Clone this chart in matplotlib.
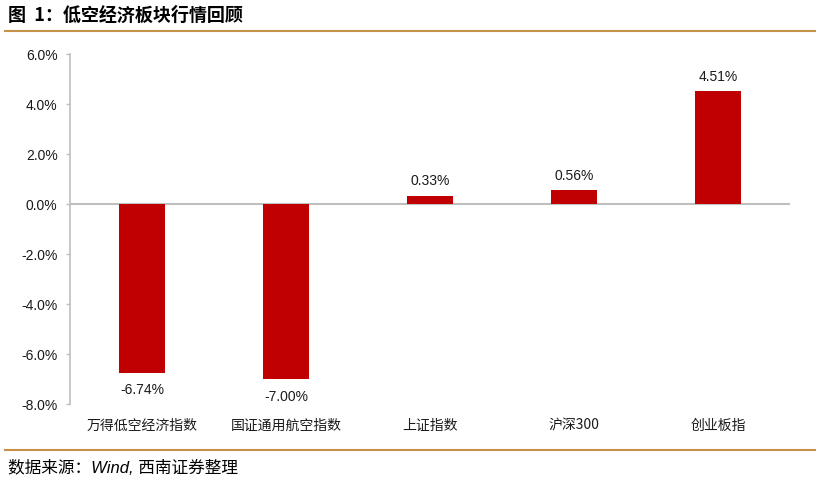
import matplotlib
matplotlib.use("Agg")
import matplotlib.pyplot as plt
from matplotlib.lines import Line2D
from matplotlib.ticker import FuncFormatter, MultipleLocator

categories = ["万得低空经济指数", "国证通用航空指数", "上证指数", "沪深300", "创业板指"]
values = [-6.74, -7.00, 0.33, 0.56, 4.51]

plt.rcParams['font.family'] = ['Liberation Sans', 'Noto Sans CJK SC', 'DejaVu Sans']

fig = plt.figure(figsize=(8.21, 4.81), dpi=100)
ax = fig.add_axes([70/821, 1-405/481, 720/821, 350/481])

bar_color = "#C00000"
grey = "#BFBFBF"
x = list(range(len(categories)))
bars = ax.bar(x, values, width=0.32, color=bar_color, zorder=3)

ax.set_xlim(-0.5, len(categories) - 0.5)
ax.set_ylim(-8, 6)
ax.yaxis.set_major_locator(MultipleLocator(2))
ax.yaxis.set_major_formatter(FuncFormatter(lambda v, p: f"{v:.1f}%"))

for s in ["top", "right", "bottom"]:
    ax.spines[s].set_visible(False)
ax.spines["left"].set_color(grey)
ax.spines["left"].set_linewidth(1.2)
ax.axhline(0, color=grey, linewidth=1.5, zorder=2)

ax.tick_params(axis="y", length=3, color=grey, width=1, labelsize=10, pad=6, labelcolor="#1a1a1a")
ax.set_xticks(x)
ax.set_xticklabels(categories, fontsize=10, family=['Noto Sans CJK SC'], color="#1a1a1a")
ax.tick_params(axis="x", length=0, pad=10)

for b, v in zip(bars, values):
    cx = b.get_x() + b.get_width() / 2
    if v >= 0:
        ax.annotate(f"{v:.2f}%", (cx, v), xytext=(0, 6), textcoords="offset points",
                    ha="center", va="bottom", fontsize=10, color="#1a1a1a")
    else:
        ax.annotate(f"{v:.2f}%", (cx, v), xytext=(0, -7), textcoords="offset points",
                    ha="center", va="top", fontsize=10, color="#1a1a1a")

line_color = "#C8914A"
fig.add_artist(Line2D([5/821, 815/821], [1-31.5/481, 1-31.5/481], color=line_color, linewidth=1.5))
fig.add_artist(Line2D([5/821, 815/821], [1-451/481, 1-451/481], color=line_color, linewidth=1.5))

fig.text(8/821, 1-15/481, "图  1：低空经济板块行情回顾", fontsize=13, fontweight="bold",
         family=['Noto Sans CJK SC'], va="center", ha="left")
fig.text(8/821, 1-468/481, "数据来源：Wind, 西南证券整理", fontsize=12, style="italic",
         family=['Liberation Sans', 'Noto Sans CJK SC'], va="center", ha="left")

fig.savefig("out.png", dpi=100)
